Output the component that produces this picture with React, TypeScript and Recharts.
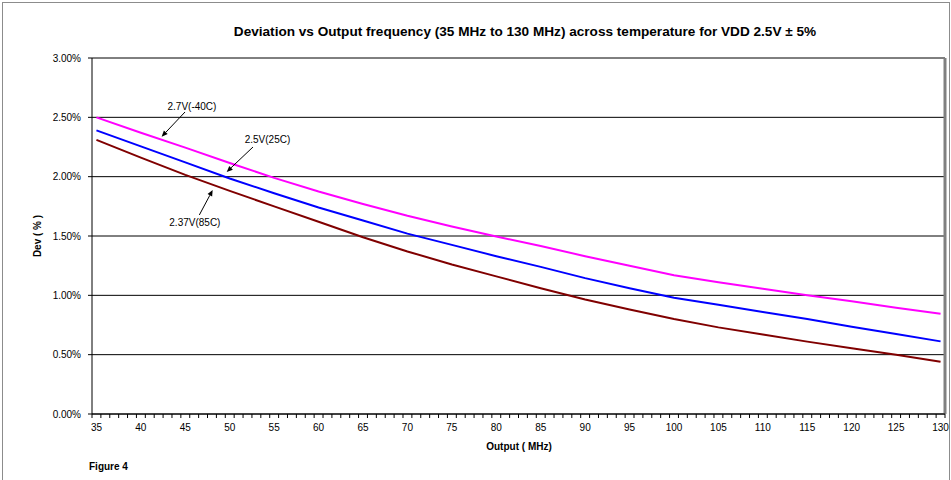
import React from 'react';
import { LineChart, Line, XAxis, YAxis, CartesianGrid, ReferenceLine, ReferenceDot } from 'recharts';

// Output frequency (MHz)
const frequencies = [35, 40, 45, 50, 55, 60, 65, 70, 75, 80, 85, 90, 95, 100, 105, 110, 115, 120, 125, 130];
// Deviation (%) per condition
const dev27V = [2.5, 2.37, 2.245, 2.115, 1.99, 1.875, 1.77, 1.67, 1.58, 1.495, 1.415, 1.33, 1.25, 1.17, 1.11, 1.055, 1.0, 0.95, 0.895, 0.845];
const dev25V = [2.39, 2.255, 2.12, 1.985, 1.86, 1.74, 1.63, 1.52, 1.425, 1.33, 1.24, 1.145, 1.06, 0.98, 0.92, 0.86, 0.8, 0.736, 0.674, 0.612];
const dev237V = [2.31, 2.16, 2.015, 1.88, 1.75, 1.62, 1.49, 1.37, 1.26, 1.16, 1.06, 0.965, 0.88, 0.8, 0.73, 0.67, 0.61, 0.555, 0.5, 0.44];

const seriesNames = ['2.7V(-40C)', '2.5V(25C)', '2.37V(85C)'];
const yTicks = [0, 0.5, 1, 1.5, 2, 2.5, 3];
const xLabelTicks = [35, 40, 45, 50, 55, 60, 65, 70, 75, 80, 85, 90, 95, 100, 105, 110, 115, 120, 125, 130];
const firstFreq = 35;
const lastFreq = 130;

// category boundaries (minor tick marks) and label positions on one axis
const xAllTicks: number[] = [];
for (let v = firstFreq - 0.5; v <= lastFreq + 0.5 + 1e-9; v += 0.5) xAllTicks.push(v);

const data = frequencies.map((f, i) => ({ f, a: dev27V[i], b: dev25V[i], c: dev237V[i] }));

// annotation callouts in data coordinates
const annotations = [
  { text: seriesNames[0], tx: 45.75, ty: 2.59, x1: 44.97, y1: 2.545, x2: 42.34, y2: 2.337 },
  { text: seriesNames[1], tx: 54.25, ty: 2.317, x1: 52.62, y1: 2.25, x2: 49.66, y2: 2.04 },
  { text: seriesNames[2], tx: 46.08, ty: 1.612, x1: 46.58, y1: 1.677, x2: 48.08, y2: 1.888 },
];

const FONT = '"Liberation Sans", Arial, sans-serif';

const XTick = (props: any) => {
  const { x, y, payload } = props;
  const v = payload.value as number;
  const isBoundary = Math.abs(v - Math.floor(v) - 0.5) < 1e-6;
  const isLabel = !isBoundary && xLabelTicks.includes(v);
  return (
    <g>
      {isBoundary && <line x1={x} x2={x} y1={y} y2={y + 4} stroke="#000" strokeWidth={1} />}
      {isLabel && (
        <text x={x} y={y + 10} dy="0.71em" textAnchor="middle" fontSize={10} fontFamily={FONT} fill="#000">
          {v}
        </text>
      )}
    </g>
  );
};

const Arrow = (props: any) => {
  const { x1, y1, x2, y2 } = props;
  if (x1 == null || y1 == null || x2 == null || y2 == null) return null;
  const ang = Math.atan2(y2 - y1, x2 - x1);
  const len = 6;
  const w = 2.6;
  const bx = x2 - len * Math.cos(ang);
  const by = y2 - len * Math.sin(ang);
  const px = -Math.sin(ang) * w;
  const py = Math.cos(ang) * w;
  return (
    <g>
      <line x1={x1} y1={y1} x2={bx} y2={by} stroke="#000" strokeWidth={1} />
      <polygon points={`${x2},${y2} ${bx + px},${by + py} ${bx - px},${by - py}`} fill="#000" />
    </g>
  );
};

const makeLabel = (text: string) => (props: any) => {
  const { cx, cy } = props;
  if (cx == null || cy == null) return null;
  return (
    <text x={cx} y={cy} dy="0.35em" textAnchor="middle" fontSize={10} fontFamily={FONT} fill="#000">
      {text}
    </text>
  );
};

export default function App() {
  return (
    <div style={{ position: 'absolute', left: 0, top: 0, width: 951, height: 480, background: '#fff', overflow: 'hidden' }}>
      <div
        style={{
          position: 'absolute',
          left: 2,
          top: 2,
          width: 946,
          height: 520,
          borderLeft: '1px solid #8c8c8c',
          borderTop: '1px solid #8c8c8c',
          borderRight: '1px solid #8c8c8c',
        }}
      />
      <div
        style={{
          position: 'absolute',
          left: 525,
          top: 24,
          transform: 'translateX(-50%)',
          whiteSpace: 'nowrap',
          fontFamily: FONT,
          fontWeight: 'bold',
          fontSize: 13.6,
          color: '#000',
        }}
      >
        Deviation vs Output frequency (35 MHz to 130 MHz) across temperature for VDD 2.5V ± 5%
      </div>
      <div
        style={{
          position: 'absolute',
          left: 37,
          top: 236,
          transform: 'translate(-50%, -50%) rotate(-90deg)',
          whiteSpace: 'nowrap',
          fontFamily: FONT,
          fontWeight: 'bold',
          fontSize: 10,
          color: '#000',
        }}
      >
        Dev ( % )
      </div>
      <div
        style={{
          position: 'absolute',
          left: 519,
          top: 441,
          transform: 'translateX(-50%)',
          whiteSpace: 'nowrap',
          fontFamily: FONT,
          fontWeight: 'bold',
          fontSize: 10,
          color: '#000',
        }}
      >
        Output ( MHz)
      </div>
      <div
        style={{
          position: 'absolute',
          left: 89,
          top: 461,
          whiteSpace: 'nowrap',
          fontFamily: FONT,
          fontWeight: 'bold',
          fontSize: 10,
          color: '#000',
        }}
      >
        Figure 4
      </div>
      <div style={{ position: 'absolute', left: 0, top: 0 }}>
        <LineChart width={951} height={480} data={data} margin={{ top: 58, right: 6, bottom: 0, left: 0 }}>
          <CartesianGrid horizontal vertical={false} stroke="#000" strokeWidth={1} />
          <XAxis
            dataKey="f"
            type="number"
            domain={[firstFreq - 0.5, lastFreq + 0.5]}
            ticks={xAllTicks}
            interval={0}
            tick={<XTick />}
            tickLine={false}
            tickSize={0}
            tickMargin={0}
            axisLine={{ stroke: '#000' }}
            height={66}
            allowDataOverflow
          />
          <YAxis
            type="number"
            domain={[0, 3]}
            ticks={yTicks}
            interval={0}
            tickFormatter={(v: number) => v.toFixed(2) + '%'}
            tick={{ fontSize: 10, fill: '#000', fontFamily: FONT }}
            tickLine={{ stroke: '#000' }}
            tickSize={4}
            tickMargin={7}
            axisLine={{ stroke: '#000' }}
            width={92}
          />
          <ReferenceLine x={lastFreq + 0.5} stroke="#808080" strokeWidth={3} />
          <Line type="linear" dataKey="a" name={seriesNames[0]} stroke="#FF00FF" strokeWidth={2} dot={false} isAnimationActive={false} />
          <Line type="linear" dataKey="b" name={seriesNames[1]} stroke="#0000FF" strokeWidth={2} dot={false} isAnimationActive={false} />
          <Line type="linear" dataKey="c" name={seriesNames[2]} stroke="#800000" strokeWidth={2} dot={false} isAnimationActive={false} />
          {annotations.map((a, i) => (
            <ReferenceLine
              key={'arr' + i}
              segment={[{ x: a.x1, y: a.y1 }, { x: a.x2, y: a.y2 }]}
              shape={<Arrow />}
            />
          ))}
          {annotations.map((a, i) => (
            <ReferenceDot key={'lab' + i} x={a.tx} y={a.ty} r={0} shape={makeLabel(a.text)} />
          ))}
        </LineChart>
      </div>
    </div>
  );
}
